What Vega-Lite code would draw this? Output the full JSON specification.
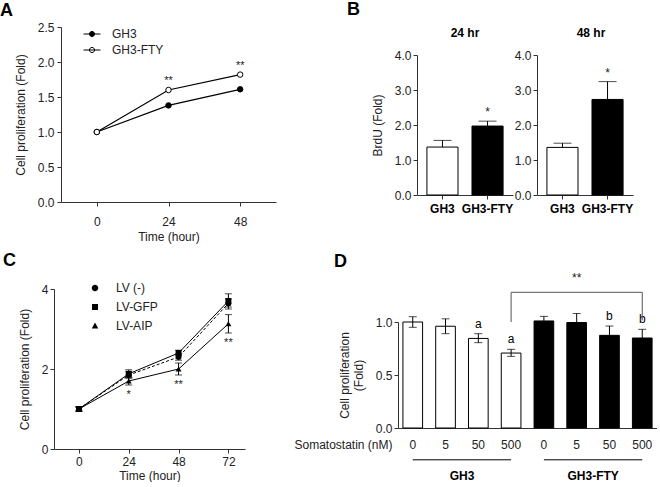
{
  "$schema": "https://vega.github.io/schema/vega-lite/v6.json",
  "padding": {"left": 0, "top": 1, "right": 0, "bottom": 0},
  "background": "white",
  "config": {
    "font": "Liberation Sans",
    "view": {"stroke": null},
    "axis": {"grid": false, "domainColor": "#333", "tickColor": "#333", "labelColor": "#222", "titleColor": "#222", "labelFontSize": 12, "titleFontSize": 12, "titleFontWeight": "normal", "tickSize": 4, "labelFont": "Liberation Sans", "titleFont": "Liberation Sans"},
    "title": {"font": "Liberation Sans", "color": "#000"},
    "legend": {"labelFontSize": 12, "labelColor": "#222", "labelFont": "Liberation Sans"}
  },
  "datasets": {
    "a": [
      {"series": "GH3", "time": 0, "value": 1.0, "sig": ""},
      {"series": "GH3", "time": 24, "value": 1.38, "sig": ""},
      {"series": "GH3", "time": 48, "value": 1.61, "sig": ""},
      {"series": "GH3-FTY", "time": 0, "value": 1.0, "sig": ""},
      {"series": "GH3-FTY", "time": 24, "value": 1.6, "sig": "**"},
      {"series": "GH3-FTY", "time": 48, "value": 1.82, "sig": "**"}
    ],
    "b": [
      {"time": "24 hr", "group": "GH3", "mean": 1.37, "upper": 1.56, "sig": ""},
      {"time": "24 hr", "group": "GH3-FTY", "mean": 1.97, "upper": 2.11, "sig": "*"},
      {"time": "48 hr", "group": "GH3", "mean": 1.36, "upper": 1.48, "sig": ""},
      {"time": "48 hr", "group": "GH3-FTY", "mean": 2.73, "upper": 3.24, "sig": "*"}
    ],
    "c": [
      {"series": "LV (-)", "time": 0, "mean": 1.0, "lo": 0.95, "hi": 1.05, "sig": ""},
      {"series": "LV (-)", "time": 24, "mean": 1.85, "lo": 1.78, "hi": 1.93, "sig": ""},
      {"series": "LV (-)", "time": 48, "mean": 2.3, "lo": 2.22, "hi": 2.38, "sig": ""},
      {"series": "LV (-)", "time": 72, "mean": 3.64, "lo": 3.55, "hi": 3.75, "sig": ""},
      {"series": "LV-GFP", "time": 0, "mean": 1.0, "lo": 0.94, "hi": 1.06, "sig": ""},
      {"series": "LV-GFP", "time": 24, "mean": 1.88, "lo": 1.77, "hi": 1.98, "sig": ""},
      {"series": "LV-GFP", "time": 48, "mean": 2.4, "lo": 2.33, "hi": 2.47, "sig": ""},
      {"series": "LV-GFP", "time": 72, "mean": 3.7, "lo": 3.5, "hi": 3.88, "sig": ""},
      {"series": "LV-AIP", "time": 0, "mean": 1.0, "lo": 0.95, "hi": 1.05, "sig": ""},
      {"series": "LV-AIP", "time": 24, "mean": 1.7, "lo": 1.6, "hi": 1.8, "sig": "*"},
      {"series": "LV-AIP", "time": 48, "mean": 2.0, "lo": 1.85, "hi": 2.15, "sig": "**"},
      {"series": "LV-AIP", "time": 72, "mean": 3.13, "lo": 2.9, "hi": 3.36, "sig": "**"}
    ],
    "d": [
      {"cond": "GH3 0", "group": "GH3", "mean": 1.0, "lo": 0.95, "hi": 1.05, "letter": ""},
      {"cond": "GH3 5", "group": "GH3", "mean": 0.96, "lo": 0.89, "hi": 1.03, "letter": ""},
      {"cond": "GH3 50", "group": "GH3", "mean": 0.845, "lo": 0.805, "hi": 0.89, "letter": "a"},
      {"cond": "GH3 500", "group": "GH3", "mean": 0.707, "lo": 0.676, "hi": 0.742, "letter": "a"},
      {"cond": "GH3-FTY 0", "group": "GH3-FTY", "mean": 1.01, "lo": 0.97, "hi": 1.053, "letter": ""},
      {"cond": "GH3-FTY 5", "group": "GH3-FTY", "mean": 0.995, "lo": 0.91, "hi": 1.08, "letter": ""},
      {"cond": "GH3-FTY 50", "group": "GH3-FTY", "mean": 0.874, "lo": 0.79, "hi": 0.962, "letter": "b"},
      {"cond": "GH3-FTY 500", "group": "GH3-FTY", "mean": 0.849, "lo": 0.77, "hi": 0.931, "letter": "b"}
    ],
    "dbracket": [
      {"kind": "top", "from": "GH3 500", "to": "GH3-FTY 500", "y": 1.28, "y2": 1.28},
      {"kind": "leg", "from": "GH3 500", "to": "GH3 500", "y": 1.0, "y2": 1.28},
      {"kind": "leg", "from": "GH3-FTY 500", "to": "GH3-FTY 500", "y": 1.015, "y2": 1.28}
    ],
    "dgroups": [
      {"group": "GH3", "from": "GH3 0", "to": "GH3 500", "mid": "GH3 50"},
      {"group": "GH3-FTY", "from": "GH3-FTY 0", "to": "GH3-FTY 500", "mid": "GH3-FTY 50"}
    ],
    "dsig": [
      {"at": "GH3-FTY 5", "label": "**"}
    ]
  },
  "spacing": 10,
  "resolve": {"scale": {"fill": "independent", "shape": "independent"}, "legend": {"fill": "independent", "shape": "independent"}},
  "vconcat": [
    {
      "spacing": 71,
      "resolve": {"scale": {"fill": "independent"}, "legend": {"fill": "independent"}},
      "hconcat": [
        {
          "width": 222,
          "height": 175,
          "title": {"text": "A", "anchor": "start", "frame": "group", "fontSize": 18, "fontWeight": "bold", "dx": -54, "offset": 1},
          "data": {"name": "a"},
          "encoding": {
            "x": {"field": "time", "type": "quantitative", "scale": {"domain": [-12, 60], "range": [7, 222], "nice": false, "zero": false}, "axis": {"values": [0, 24, 48], "title": "Time (hour)", "labelPadding": 10, "titlePadding": 4}},
            "y": {"field": "value", "type": "quantitative", "scale": {"domain": [0, 2.5], "nice": false}, "axis": {"values": [0, 0.5, 1, 1.5, 2, 2.5], "format": ".1f", "title": "Cell proliferation (Fold)", "titlePadding": 10, "labelPadding": 3, "offset": -7}}
          },
          "layer": [
            {"mark": {"type": "line", "color": "#000", "strokeWidth": 1.2}, "encoding": {"detail": {"field": "series"}}},
            {"mark": {"type": "point", "shape": "circle", "size": 30, "filled": true, "stroke": "#000", "strokeWidth": 1, "opacity": 1},
             "encoding": {"fill": {"field": "series", "type": "nominal", "scale": {"domain": ["GH3", "GH3-FTY"], "range": ["#000", "#fff"]},
               "legend": {"title": null, "orient": "none", "legendX": 29, "legendY": -2, "padding": 0, "symbolType": "M-1,0H1M0.3,0A0.3,0.3 0 1,1 -0.3,0A0.3,0.3 0 1,1 0.3,0Z", "symbolSize": 289, "symbolStrokeColor": "#000", "symbolStrokeWidth": 1, "labelOffset": 11, "rowPadding": 1}}}},
            {"mark": {"type": "text", "dy": -9, "fontSize": 11, "color": "#222"}, "encoding": {"text": {"field": "sig"}}}
          ]
        },
        {
          "title": {"text": "B", "anchor": "start", "frame": "group", "fontSize": 18, "fontWeight": "bold", "dx": -70, "offset": 8},
          "spacing": 1,
          "hconcat": [
            {
              "width": 96,
              "height": 175,
              "title": {"text": "24 hr", "fontSize": 12, "fontWeight": "bold", "anchor": "middle", "frame": "group", "offset": -13},
              "data": {"name": "b"},
              "transform": [{"filter": "datum.time === '24 hr'"}],
              "encoding": {"x": {"field": "group", "type": "nominal", "sort": null, "scale": {"paddingInner": 0.31, "paddingOuter": 0.22}, "axis": {"title": null, "labelAngle": 0, "labelFontWeight": "bold", "labelPadding": 4, "labelColor": "#000", "offset": -7}}},
              "layer": [
                {"mark": {"type": "bar", "stroke": "#000", "strokeWidth": 1}, "encoding": {
                  "y": {"field": "mean", "type": "quantitative", "scale": {"domain": [0, 4], "range": [168, 28], "nice": false}, "axis": {"values": [0, 1, 2, 3, 4], "format": ".1f", "title": "BrdU (Fold)", "titlePadding": 10}},
                  "fill": {"field": "group", "type": "nominal", "scale": {"domain": ["GH3", "GH3-FTY"], "range": ["#fff", "#000"]}, "legend": null}}},
                {"mark": {"type": "rule", "color": "#000"}, "encoding": {"y": {"field": "mean", "type": "quantitative", "axis": {"title": "BrdU (Fold)"}}, "y2": {"field": "upper"}}},
                {"mark": {"type": "tick", "color": "#000", "size": 18, "thickness": 1, "orient": "horizontal"}, "encoding": {"y": {"field": "upper", "type": "quantitative", "axis": {"title": "BrdU (Fold)"}}}},
                {"mark": {"type": "text", "baseline": "bottom", "dy": -2, "fontSize": 12, "color": "#222"}, "encoding": {"y": {"field": "upper", "type": "quantitative", "axis": {"title": "BrdU (Fold)"}}, "text": {"field": "sig"}}}
              ]
            },
            {
              "width": 96,
              "height": 175,
              "title": {"text": "48 hr", "fontSize": 12, "fontWeight": "bold", "anchor": "middle", "frame": "group", "offset": -13, "dx": 6},
              "data": {"name": "b"},
              "transform": [{"filter": "datum.time === '48 hr'"}],
              "encoding": {"x": {"field": "group", "type": "nominal", "sort": null, "scale": {"paddingInner": 0.31, "paddingOuter": 0.22}, "axis": {"title": null, "labelAngle": 0, "labelFontWeight": "bold", "labelPadding": 4, "labelColor": "#000", "offset": -7}}},
              "layer": [
                {"mark": {"type": "bar", "stroke": "#000", "strokeWidth": 1}, "encoding": {
                  "y": {"field": "mean", "type": "quantitative", "scale": {"domain": [0, 4], "range": [168, 28], "nice": false}, "axis": {"values": [0, 1, 2, 3, 4], "format": ".1f", "title": null}},
                  "fill": {"field": "group", "type": "nominal", "scale": {"domain": ["GH3", "GH3-FTY"], "range": ["#fff", "#000"]}, "legend": null}}},
                {"mark": {"type": "rule", "color": "#000"}, "encoding": {"y": {"field": "mean", "type": "quantitative", "axis": {"title": null}}, "y2": {"field": "upper"}}},
                {"mark": {"type": "tick", "color": "#000", "size": 18, "thickness": 1, "orient": "horizontal"}, "encoding": {"y": {"field": "upper", "type": "quantitative", "axis": {"title": null}}}},
                {"mark": {"type": "text", "baseline": "bottom", "dy": -2, "fontSize": 12, "color": "#222"}, "encoding": {"y": {"field": "upper", "type": "quantitative", "axis": {"title": null}}, "text": {"field": "sig"}}}
              ]
            }
          ]
        }
      ]
    },
    {
      "spacing": 48,
      "resolve": {"scale": {"fill": "independent", "shape": "independent"}, "legend": {"fill": "independent", "shape": "independent"}},
      "hconcat": [
        {
          "width": 191,
          "height": 160,
          "title": {"text": "C", "anchor": "start", "frame": "group", "fontSize": 18, "fontWeight": "bold", "dx": -51, "offset": 5},
          "data": {"name": "c"},
          "resolve": {"scale": {"shape": "independent"}, "legend": {"shape": "independent"}},
          "encoding": {"x": {"field": "time", "type": "quantitative", "scale": {"domain": [-12, 80], "nice": false, "zero": false}, "axis": {"values": [0, 24, 48, 72], "title": "Time (hour)", "labelPadding": 3, "titlePadding": 3}}},
          "layer": [
            {"transform": [{"filter": "datum.series === 'LV (-)'"}], "mark": {"type": "line", "color": "#000", "strokeWidth": 1, "strokeDash": [3, 2]}, "encoding": {
              "y": {"field": "mean", "type": "quantitative", "scale": {"domain": [0, 4], "nice": false}, "axis": {"values": [0, 1, 2, 3, 4], "title": "Cell proliferation (Fold)", "labelPadding": 2, "titlePadding": 10}}}},
            {"transform": [{"filter": "datum.series !== 'LV (-)'"}], "mark": {"type": "line", "color": "#000", "strokeWidth": 1}, "encoding": {
              "y": {"field": "mean", "type": "quantitative", "axis": {"title": "Cell proliferation (Fold)"}},
              "detail": {"field": "series"}}},
            {"mark": {"type": "rule", "color": "#000"}, "encoding": {"y": {"field": "lo", "type": "quantitative", "axis": {"title": "Cell proliferation (Fold)"}}, "y2": {"field": "hi"}}},
            {"mark": {"type": "tick", "color": "#000", "size": 7, "thickness": 1, "orient": "horizontal"}, "encoding": {"y": {"field": "lo", "type": "quantitative", "axis": {"title": "Cell proliferation (Fold)"}}}},
            {"mark": {"type": "tick", "color": "#000", "size": 7, "thickness": 1, "orient": "horizontal"}, "encoding": {"y": {"field": "hi", "type": "quantitative", "axis": {"title": "Cell proliferation (Fold)"}}}},
            {"mark": {"type": "point", "filled": true, "color": "#000", "size": 35, "opacity": 1}, "encoding": {
              "y": {"field": "mean", "type": "quantitative", "axis": {"title": "Cell proliferation (Fold)"}},
              "shape": {"field": "series", "type": "nominal", "scale": {"domain": ["LV (-)", "LV-GFP", "LV-AIP"], "range": ["circle", "square", "triangle-up"]}, "legend": null}}},
            {"mark": {"type": "point", "filled": true, "color": "#000", "stroke": "#000", "strokeWidth": 1, "size": 35, "opacity": 0}, "encoding": {
              "y": {"field": "mean", "type": "quantitative", "axis": {"title": "Cell proliferation (Fold)"}},
              "shape": {"field": "series", "type": "nominal",
                "scale": {"domain": ["LV (-)", "LV-GFP", "LV-AIP"], "range": ["M-1,0H-0.8M-0.6,0H-0.4M0.4,0H0.6M0.8,0H1M0.26,0A0.26,0.26 0 1,1 -0.26,0A0.26,0.26 0 1,1 0.26,0Z", "M-1,0H1M-0.24,-0.24H0.24V0.24H-0.24Z", "M-1,0H1M0,-0.28L0.26,0.2H-0.26Z"]},
                "legend": {"title": null, "orient": "none", "legendX": 28, "legendY": -14, "padding": 0, "symbolSize": 625, "symbolFillColor": "#000", "symbolStrokeColor": "#000", "symbolStrokeWidth": 1, "symbolOpacity": 1, "labelOffset": 8, "rowPadding": -0.5,
                  "encode": {"symbols": {"stroke": {"value": "#000"}, "strokeWidth": {"value": 1}, "strokeOpacity": {"value": 1}, "fill": {"value": "#000"}, "opacity": {"value": 1}}}}}}},
            {"mark": {"type": "text", "baseline": "top", "dy": 4, "fontSize": 11, "color": "#222"}, "encoding": {"y": {"field": "lo", "type": "quantitative", "axis": {"title": "Cell proliferation (Fold)"}}, "text": {"field": "sig"}}}
          ]
        },
        {
          "width": 259,
          "height": 160,
          "title": {"text": "D", "anchor": "start", "frame": "group", "fontSize": 18, "fontWeight": "bold", "dx": -64, "offset": 1},
          "encoding": {"x": {"field": "cond", "type": "nominal", "sort": null,
            "scale": {"domain": ["GH3 0", "GH3 5", "GH3 50", "GH3 500", "GH3-FTY 0", "GH3-FTY 5", "GH3-FTY 50", "GH3-FTY 500"], "paddingInner": 0.4, "paddingOuter": 0.15},
            "axis": {"labelExpr": "split(datum.label, ' ')[1]", "labelAngle": 0, "ticks": false, "labelPadding": 11, "offset": -21, "title": "Somatostatin (nM)", "titleAnchor": "start", "titleAlign": "right", "titleX": -6, "titleY": 11}}},
          "layer": [
            {"data": {"name": "d"}, "mark": {"type": "bar", "stroke": "#000", "strokeWidth": 1}, "encoding": {
              "y": {"field": "mean", "type": "quantitative", "scale": {"domain": [0, 1], "range": [139, 33], "nice": false}, "axis": {"values": [0, 0.5, 1], "format": ".1f", "title": ["Cell proliferation", "(Fold)"], "titlePadding": 10, "labelPadding": 2}},
              "fill": {"field": "group", "type": "nominal", "scale": {"domain": ["GH3", "GH3-FTY"], "range": ["#fff", "#000"]}, "legend": null}}},
            {"data": {"name": "d"}, "mark": {"type": "rule", "color": "#000"}, "encoding": {"y": {"field": "lo", "type": "quantitative", "axis": {"title": ["Cell proliferation", "(Fold)"]}}, "y2": {"field": "hi"}}},
            {"data": {"name": "d"}, "mark": {"type": "tick", "color": "#000", "size": 8, "thickness": 1, "orient": "horizontal"}, "encoding": {"y": {"field": "lo", "type": "quantitative", "axis": {"title": ["Cell proliferation", "(Fold)"]}}}},
            {"data": {"name": "d"}, "mark": {"type": "tick", "color": "#000", "size": 8, "thickness": 1, "orient": "horizontal"}, "encoding": {"y": {"field": "hi", "type": "quantitative", "axis": {"title": ["Cell proliferation", "(Fold)"]}}}},
            {"data": {"name": "d"}, "mark": {"type": "text", "baseline": "bottom", "dy": -3, "fontSize": 12, "color": "#000"}, "encoding": {"y": {"field": "hi", "type": "quantitative", "axis": {"title": ["Cell proliferation", "(Fold)"]}}, "text": {"field": "letter"}}},
            {"data": {"name": "dbracket"}, "mark": {"type": "rule", "color": "#555", "strokeWidth": 1}, "encoding": {
              "x": {"field": "from", "type": "nominal"}, "x2": {"field": "to"},
              "y": {"field": "y", "type": "quantitative", "axis": {"title": ["Cell proliferation", "(Fold)"]}}, "y2": {"field": "y2"}}},
            {"data": {"name": "dsig"}, "mark": {"type": "text", "baseline": "middle", "fontSize": 12, "color": "#222"}, "encoding": {
              "x": {"field": "at", "type": "nominal"}, "y": {"datum": 1.415}, "text": {"field": "label"}}},
            {"data": {"name": "dgroups"}, "mark": {"type": "rule", "color": "#000", "strokeWidth": 1}, "encoding": {
              "x": {"field": "from", "type": "nominal"}, "x2": {"field": "to"}, "y": {"datum": -0.3}}},
            {"data": {"name": "dgroups"}, "mark": {"type": "text", "fontSize": 12, "fontWeight": "bold", "color": "#000", "baseline": "middle"}, "encoding": {
              "x": {"field": "mid", "type": "nominal", "bandPosition": -0.33}, "y": {"datum": -0.45}, "text": {"field": "group"}}}
          ]
        }
      ]
    }
  ]
}
